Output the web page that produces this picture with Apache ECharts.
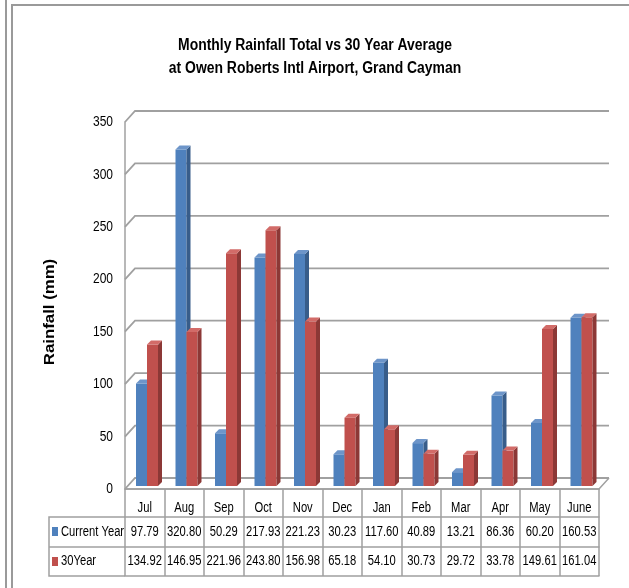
<!DOCTYPE html>
<html>
<head>
<meta charset="utf-8">
<script src="https://cdn.jsdelivr.net/npm/echarts@6/dist/echarts.min.js"></script>
<style>
  html, body { margin: 0; padding: 0; background: #fff; }
  #main { width: 629px; height: 588px; }
</style>
</head>
<body>
<div id="main"></div>
<script>
var months = ['Jul', 'Aug', 'Sep', 'Oct', 'Nov', 'Dec', 'Jan', 'Feb', 'Mar', 'Apr', 'May', 'June'];
var currentYear = [97.79, 320.80, 50.29, 217.93, 221.23, 30.23, 117.60, 40.89, 13.21, 86.36, 60.20, 160.53];
var thirtyYear = [134.92, 146.95, 221.96, 243.80, 156.98, 65.18, 54.10, 30.73, 29.72, 33.78, 149.61, 161.04];
var seriesNames = ['Current Year', '30Year'];
var yTicks = [0, 50, 100, 150, 200, 250, 300, 350];

var font = '"Liberation Sans", Arial, sans-serif';
var DX = 10, DY = 11;   // depth of the back wall
var BW = 11, BD = 4;    // bar width and bar depth
var lineCol = '#a0a0a0';
var blue = '#4f81bd', red = '#c0504d';

// narrow looking text (squeezed horizontally)
function narrowText(x, y, txt, align, size) {
  return {
    type: 'text', x: x, y: y, scaleX: 0.8,
    style: { x: 0, y: 0, text: txt, align: align, verticalAlign: 'middle', font: size + 'px ' + font, fill: '#000' }
  };
}

// 3d bar: front face, side, top
function bar3d(off, front, side, top) {
  return function (params, api) {
    var i = api.value(0);
    var p = api.coord([i, api.value(1)]);
    var b = api.coord([i, 0]);
    var x = p[0] + off, yt = p[1] - 3, yb = b[1] - 3;
    return {
      type: 'group',
      children: [
        { type: 'rect', shape: { x: x, y: yt, width: BW, height: yb - yt }, style: { fill: front } },
        { type: 'polygon', shape: { points: [[x + BW, yt], [x + BW + BD, yt - BD], [x + BW + BD, yb - BD], [x + BW, yb]] }, style: { fill: side } },
        { type: 'polygon', shape: { points: [[x, yt], [x + BD, yt - BD], [x + BW + BD, yt - BD], [x + BW, yt]] }, style: { fill: top } }
      ]
    };
  };
}

function tableAxis(offset, tickLen) {
  return {
    type: 'category', data: months, position: 'bottom', offset: offset,
    axisLine: { lineStyle: { color: lineCol, width: 1.5 } },
    axisTick: { show: tickLen > 0, interval: 0, length: tickLen, lineStyle: { color: lineCol, width: 1.5 } },
    axisLabel: { show: false }
  };
}

var chart = echarts.init(document.getElementById('main'));

var option = {
  animation: false,
  grid: { left: 125, right: 30, top: 122, bottom: 99 },
  xAxis: [tableAxis(0, 28), tableAxis(28, 30), tableAxis(58, 29), tableAxis(87, 0)],
  yAxis: {
    type: 'value', min: 0, max: 350, interval: 50,
    axisLine: { show: true, lineStyle: { color: lineCol, width: 1.5 } },
    axisTick: { show: false },
    splitLine: { show: false },
    axisLabel: { show: false }
  },
  graphic: [
    { type: 'line', shape: { x1: 6, y1: 0, x2: 6, y2: 588 }, style: { stroke: '#9a9a9a', lineWidth: 2 } },
    { type: 'polyline', shape: { points: [[12, 588], [12, 5], [629, 5]] }, style: { stroke: '#9a9a9a', lineWidth: 2, fill: null } },
    { type: 'polyline', shape: { points: [[125, 517], [49, 517], [49, 576], [125, 576]] }, style: { stroke: lineCol, lineWidth: 1.5, fill: null } },
    { type: 'line', shape: { x1: 49, y1: 547, x2: 125, y2: 547 }, style: { stroke: lineCol, lineWidth: 1.5 } },
    // row keys of the data table
    { type: 'rect', shape: { x: 52, y: 527, width: 6, height: 9 }, style: { fill: blue } },
    narrowText(61, 532, seriesNames[0], 'left', 14),
    { type: 'rect', shape: { x: 52, y: 557, width: 6, height: 9 }, style: { fill: red } },
    narrowText(61, 561, seriesNames[1], 'left', 14),
    {
      type: 'text', x: 315, y: 34, scaleX: 0.87,
      style: {
        text: 'Monthly Rainfall Total vs 30 Year Average\nat Owen Roberts Intl Airport, Grand Cayman',
        align: 'center', verticalAlign: 'top', font: 'bold 16px ' + font, lineHeight: 23, fill: '#000'
      }
    },
    {
      type: 'text', x: 50, y: 312, rotation: Math.PI / 2, scaleX: 1.2,
      style: { text: 'Rainfall (mm)', align: 'center', verticalAlign: 'middle', font: 'bold 14px ' + font, fill: '#000' }
    }
  ],
  series: [
    {
      name: 'walls',
      type: 'custom',
      silent: true,
      z: 1,
      data: yTicks.map(function (v) { return [0, v]; }),
      renderItem: function (params, api) {
        var cs = params.coordSys;
        var y = api.coord([0, api.value(1)])[1];
        var x0 = cs.x, x1 = cs.x + cs.width;
        var kids = [{
          type: 'polyline',
          shape: { points: [[x0, y], [x0 + DX, y - DY], [x1 + DX, y - DY]] },
          style: { stroke: lineCol, lineWidth: 1.8, fill: null }
        }, narrowText(x0 - 12, y, String(api.value(1)), 'right', 15)];
        if (api.value(1) === 0) {
          kids.push({
            type: 'polyline',
            shape: { points: [[x0, y], [x1, y], [x1 + DX, y - DY]] },
            style: { stroke: lineCol, lineWidth: 1.5, fill: null }
          });
        }
        return { type: 'group', children: kids };
      }
    },
    {
      name: 'table',
      type: 'custom',
      silent: true,
      z: 1,
      data: months.map(function (m, i) { return [i, currentYear[i], thirtyYear[i]]; }),
      renderItem: function (params, api) {
        var cs = params.coordSys;
        var i = api.value(0);
        var x = api.coord([i, 0])[0];
        var y0 = cs.y + cs.height;
        return {
          type: 'group',
          children: [
            narrowText(x, y0 + 19, months[i], 'center', 14),
            narrowText(x, y0 + 43, api.value(1).toFixed(2), 'center', 14),
            narrowText(x, y0 + 72, api.value(2).toFixed(2), 'center', 14)
          ]
        };
      }
    },
    {
      name: seriesNames[0],
      type: 'custom',
      z: 2,
      itemStyle: { color: blue },
      data: currentYear.map(function (v, i) { return [i, v]; }),
      renderItem: bar3d(-8.75, blue, '#385d8a', '#6d95c9')
    },
    {
      name: seriesNames[1],
      type: 'custom',
      z: 3,
      itemStyle: { color: red },
      data: thirtyYear.map(function (v, i) { return [i, v]; }),
      renderItem: bar3d(2.25, red, '#8c3836', '#d26b68')
    }
  ]
};

chart.setOption(option);
</script>
</body>
</html>
